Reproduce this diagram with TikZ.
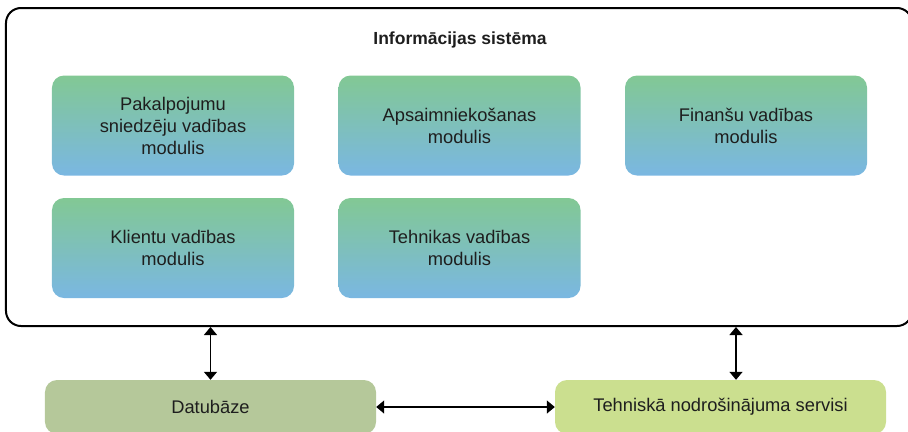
\documentclass[tikz,border=0pt]{standalone}
\usepackage{fontspec}
\setmainfont{Liberation Sans}
\usetikzlibrary{arrows.meta}
\definecolor{gtop}{RGB}{130,200,148}
\definecolor{gbot}{RGB}{122,183,226}
\definecolor{dbfill}{RGB}{181,200,154}
\definecolor{tsfill}{RGB}{203,223,143}
\definecolor{txt}{RGB}{30,30,30}
\tikzset{
  module/.style={rounded corners=12bp, top color=gtop, bottom color=gbot, draw=none,
    minimum width=242bp, minimum height=100bp, align=center, text=txt,
    font=\fontsize{18.3bp}{22bp}\selectfont, inner sep=0pt},
  lowbox/.style={rounded corners=12bp, draw=none, minimum height=54bp,
    text=txt, font=\fontsize{18.3bp}{22bp}\selectfont, inner sep=0pt},
  conn/.style={line width=1.4bp, {Triangle[length=8bp,width=13bp]}-{Triangle[length=8bp,width=13bp]}}
}
\begin{document}
\begin{tikzpicture}[x=1bp,y=-1bp]
\useasboundingbox (0,0) rectangle (908,431);
\clip (0,0) rectangle (908,431);
\node[draw=black, line width=2bp, rounded corners=15bp, minimum width=906bp, minimum height=318bp, inner sep=0pt] (outer) at (459,167) {};
\node[font=\bfseries\fontsize{17.5bp}{20bp}\selectfont, text=txt] (title) at (460,40) {Informācijas sistēma};
\node[module] (m1) at (173,125.5) {Pakalpojumu\\sniedzēju vadības\\modulis};
\node[module] (m2) at (459.5,125.5) {Apsaimniekošanas\\modulis};
\node[module] (m3) at (746,125.5) {Finanšu vadības\\modulis};
\node[module] (m4) at (173,248) {Klientu vadības\\modulis};
\node[module] (m5) at (459.5,248) {Tehnikas vadības\\modulis};
\node[lowbox, fill=dbfill, minimum width=331bp] (db) at (210.5,407) {Datubāze};
\node[lowbox, fill=tsfill, minimum width=331bp] (ts) at (720.5,407) {Tehniskā nodrošinājuma servisi};
\draw[conn] (db.north) -- (db.north |- outer.south);
\draw[conn] ([xshift=15.5bp]ts.north) -- ([xshift=15.5bp]ts.north |- outer.south);
\draw[conn] (db.east) -- (ts.west);
\end{tikzpicture}
\end{document}
